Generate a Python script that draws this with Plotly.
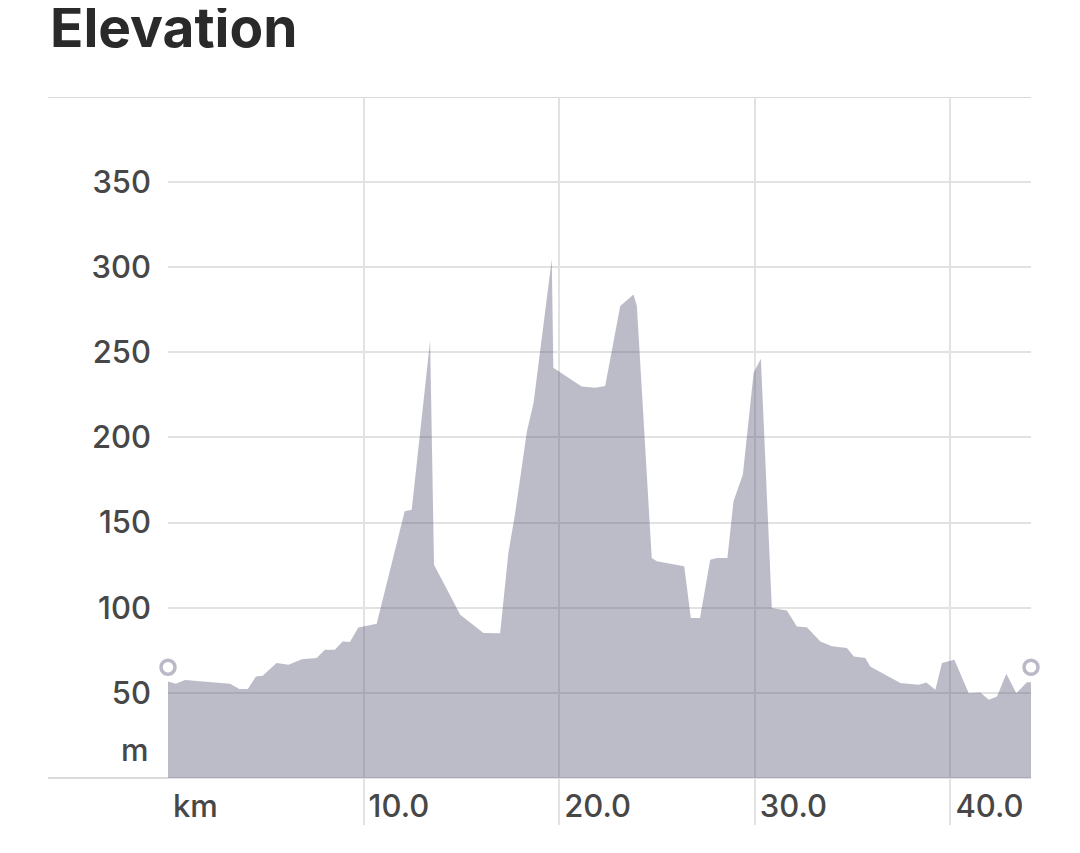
import plotly.graph_objects as go

# Distance along route (km) and elevation (m)
km = [0, 0.4, 0.87, 3.17, 3.65, 4.08, 4.5, 4.84, 5.55, 6.16, 6.84, 7.6, 8.02, 8.53,
      8.93, 9.3, 9.73, 10.67, 12.1, 12.46, 13.4, 13.6, 14.94, 16.13, 16.98, 17.4,
      17.75, 18.35, 18.69, 19.62, 19.7, 21.15, 21.84, 22.35, 23.12, 23.8, 23.97,
      24.73, 24.99, 26.39, 26.73, 27.2, 27.72, 28.06, 28.6, 28.91, 29.39, 29.94,
      30.31, 30.87, 31.64, 32.15, 32.66, 33.35, 33.94, 34.71, 35.06, 35.65, 35.9,
      37.44, 38.38, 38.77, 39.23, 39.57, 40.2, 40.94, 41.53, 41.96, 42.38, 42.86,
      43.37, 43.91, 44.12]
elevation = [56.6, 55.3, 57.6, 55.3, 52.2, 52.2, 59.6, 60, 67.5, 66.5, 69.7, 70.4,
             75.3, 75.3, 80.2, 79.8, 88.4, 90.6, 156.7, 157.6, 257, 125.3, 95.9,
             85.1, 85, 132, 155.7, 203.7, 220.4, 304.7, 241, 230, 229.2, 230.2,
             277.2, 284, 277.2, 129.2, 127.3, 124.3, 94, 94, 128.2, 129.2, 129.2,
             162.5, 178.2, 238, 246.3, 99.8, 98.4, 89, 88.5, 80.2, 77.3, 76.3, 71.4,
             70.4, 65.5, 55.7, 54.7, 56, 51.8, 67.5, 69.4, 49.8, 50.2, 45.9, 47.8,
             61.2, 49.8, 56.2, 56.2]

x_ticks = [0, 10, 20, 30, 40, 44.12]
x_tick_labels = ["km", "10.0", "20.0", "30.0", "40.0", ""]
y_ticks = [0, 50, 100, 150, 200, 250, 300, 350, 400]
y_tick_labels = ["", "50", "100", "150", "200", "250", "300", "350", ""]
handle_y = 65

GRID = "#e2e2e2"
FONT = "Inter, Roboto, sans-serif"
LABEL_FONT = dict(family=FONT, size=31, color="#474747", weight=500)

fig = go.Figure()
fig.add_trace(go.Scatter(
    x=km, y=elevation, mode="lines", fill="tozeroy",
    line=dict(width=0, color="rgba(79,79,110,0.38)"),
    fillcolor="rgba(79,79,110,0.38)", hoverinfo="skip", showlegend=False))
fig.add_trace(go.Scatter(
    x=[km[0], km[-1]], y=[handle_y, handle_y], mode="markers", cliponaxis=False,
    marker=dict(size=14, color="white", line=dict(color="#b9b9c8", width=3.5)),
    hoverinfo="skip", showlegend=False))

for yv in (0, 400):
    fig.add_shape(type="line", xref="paper", yref="y", x0=-0.139, x1=1.0,
                  y0=yv, y1=yv, line=dict(color="#d9d9d9", width=2), layer="below")

fig.add_annotation(text="m", xref="paper", yref="y", x=0, y=16.5, xanchor="right",
                   xshift=-17, showarrow=False, font=LABEL_FONT)

fig.update_layout(
    width=1072, height=845,
    margin=dict(l=160, r=49, t=89, b=28),
    paper_bgcolor="white", plot_bgcolor="white",
    title=dict(text="<b>Elevation</b>", x=42 / 1072, xanchor="left",
               y=1.0, yanchor="top", yref="container", pad=dict(t=0),
               font=dict(family=FONT, size=55, color="#2a2a2a")),
    font=LABEL_FONT,
    xaxis=dict(range=[0, 44.12], tickvals=x_ticks, ticktext=x_tick_labels,
               showgrid=True, gridcolor=GRID, gridwidth=2, zeroline=False,
               showline=False, ticks="", ticklabelposition="inside right",
               ticklabeloverflow="allow", ticklabelshift=5, ticklabelstandoff=-4,
               tickfont=LABEL_FONT),
    yaxis=dict(range=[-27.65, 400], tickvals=y_ticks, ticktext=y_tick_labels,
               showgrid=True, gridcolor=GRID, gridwidth=2, zeroline=False,
               showline=False, ticks="", ticklabelstandoff=16,
               tickfont=LABEL_FONT),
)

fig.write_html("out.html")
